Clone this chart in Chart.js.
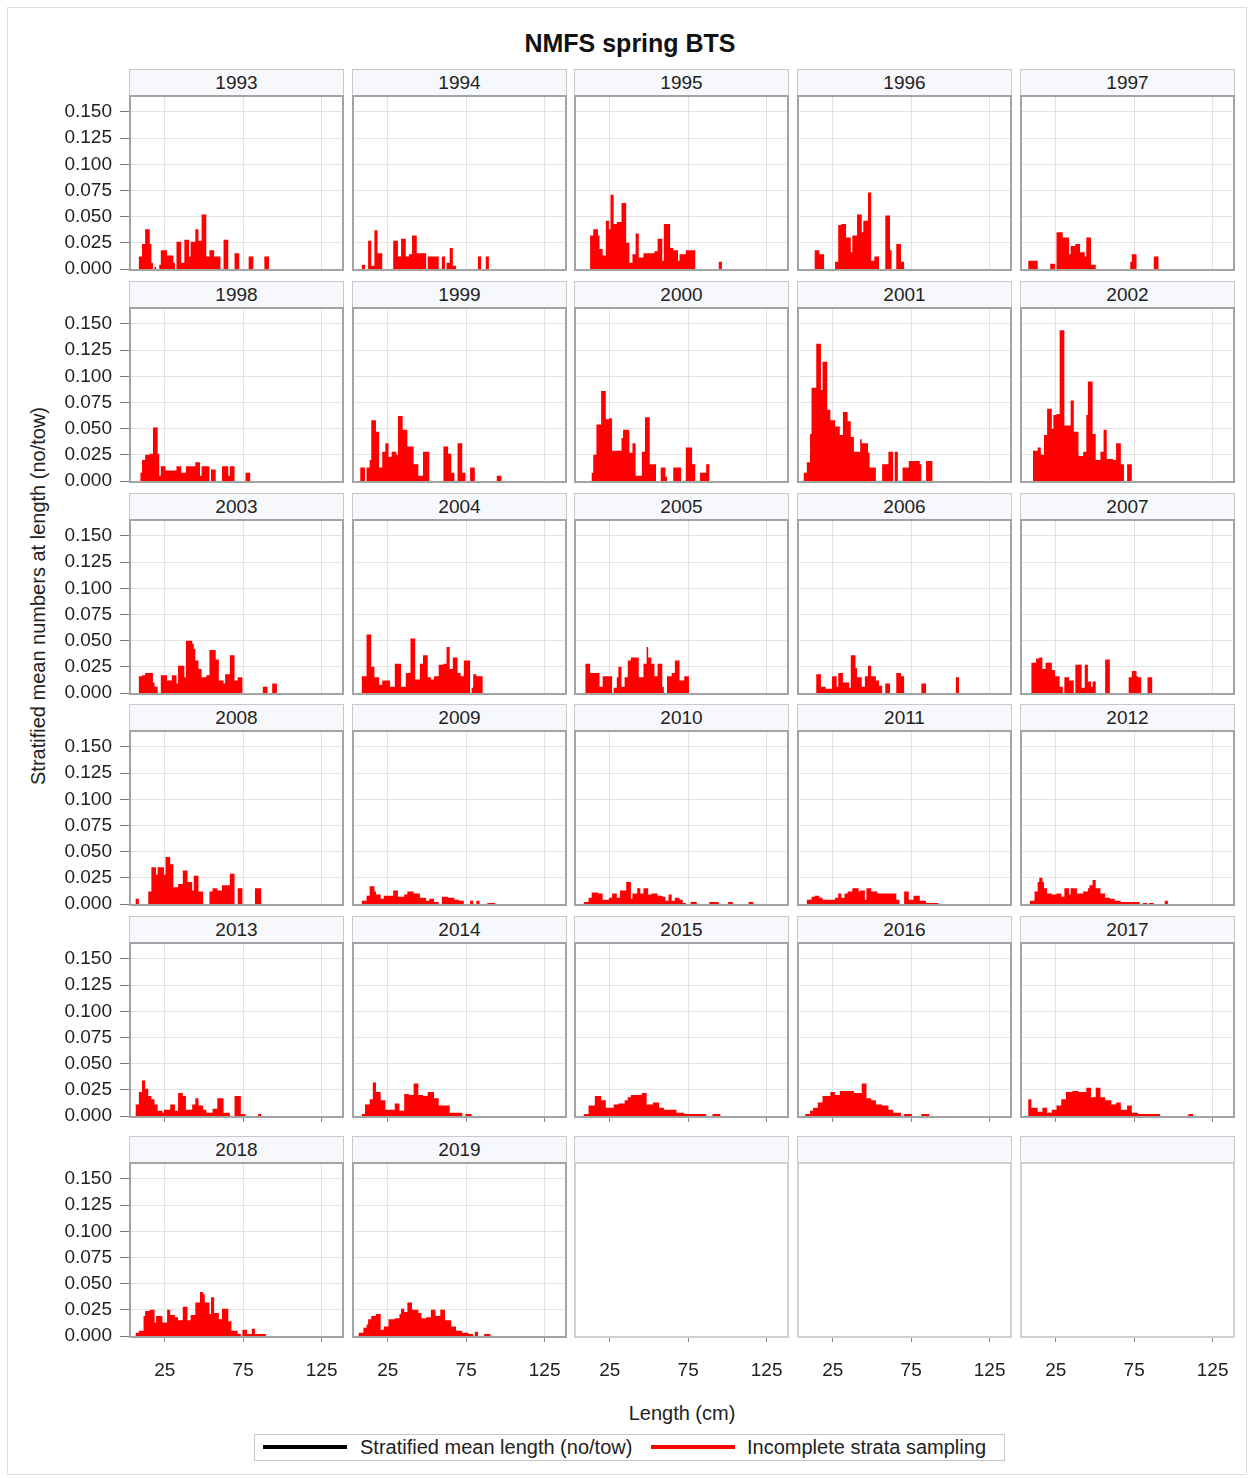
<!DOCTYPE html>
<html>
<head>
<meta charset="utf-8">
<title>NMFS spring BTS</title>
<script src="https://cdn.jsdelivr.net/npm/chart.js@4.4.1/dist/chart.umd.min.js"></script>
<style>
  body { margin: 0; background: #fff; font-family: "Liberation Sans", Arial, sans-serif; color: #222; }
  #page { position: relative; width: 1252px; height: 1478px; overflow: hidden; }
  #outer { position: absolute; left: 7px; top: 7px; width: 1238px; height: 1466px; border: 1px solid #dcdcdc; }
  .title { position: absolute; left: 0; width: 1260px; top: 29px; text-align: center; font-weight: bold; font-size: 25px; color: #111; }
  .strip { position: absolute; height: 27px; background: #f7f8fc; border: 1px solid #c8c8c8; border-bottom: none; box-sizing: border-box;
           text-align: center; font-size: 19px; line-height: 26px; color: #222; }
  canvas { position: absolute; }
  .ytitle { position: absolute; left: -212px; top: 584px; width: 500px; height: 24px; line-height: 24px; text-align: center;
            font-size: 20px; transform: rotate(-90deg); }
  .xtitle { position: absolute; left: 482px; top: 1401px; width: 400px; text-align: center; font-size: 20px; line-height: 24px; }
  .legend { position: absolute; left: 254px; top: 1434px; width: 751px; height: 27px; border: 1px solid #c8c8c8; box-sizing: border-box; }
  .swatch { position: absolute; height: 4px; }
  .ltext { position: absolute; font-size: 20px; line-height: 24px; top: 1435px; }
</style>
</head>
<body>
<div id="page">
  <div id="outer"></div>
  <div class="title">NMFS spring BTS</div>
  <div class="ytitle">Stratified mean numbers at length (no/tow)</div>
  <div class="xtitle">Length (cm)</div>
  <div class="legend"></div>
  <div class="swatch" style="left:263px;top:1445px;width:84px;background:#000;"></div>
  <div class="ltext" style="left:360px;">Stratified mean length (no/tow)</div>
  <div class="swatch" style="left:651px;top:1445px;width:84px;background:#ff0000;"></div>
  <div class="ltext" style="left:747px;">Incomplete strata sampling</div>
</div>
<script>
// panel years and axis ticks
const years = [1993, 1994, 1995, 1996, 1997, 1998, 1999, 2000, 2001, 2002, 2003, 2004, 2005, 2006,
               2007, 2008, 2009, 2010, 2011, 2012, 2013, 2014, 2015, 2016, 2017, 2018, 2019];
const yTicks = [0, 0.025, 0.05, 0.075, 0.1, 0.125, 0.15];
const xTicks = [25, 75, 125];
const binFirst = 4, binLast = 137;

// histogram runs: [from cm, to cm, no/tow]
const y1993 = [[9,10,.012],[11,12,.024],[13,15,.038],[16,16,.024],[17,17,.006],[19,19,.002],[22,22,.004],[23,26,.018],[27,30,.013],[31,31,.006],[33,35,.026],[36,37,.006],[38,40,.028],[41,41,.012],[42,44,.026],[45,46,.038],[47,48,.027],[49,51,.052],[52,53,.012],[54,56,.018],[57,60,.012],[63,65,.028],[70,72,.015],[79,81,.012],[89,91,.012]];
const y1994 = [[9,10,.004],[13,14,.027],[15,16,.003],[17,18,.037],[19,21,.015],[29,31,.027],[32,33,.012],[34,36,.029],[37,38,.012],[39,40,.014],[41,43,.032],[44,49,.015],[51,57,.012],[60,61,.012],[63,64,.006],[65,66,.020],[67,68,.003],[83,84,.012],[88,89,.012]];
const y1995 = [[13,14,.032],[15,17,.038],[18,18,.032],[19,20,.019],[21,22,.013],[23,24,.046],[25,25,.038],[26,27,.071],[28,29,.043],[30,32,.045],[33,35,.063],[36,37,.025],[38,39,.006],[40,41,.014],[42,43,.034],[44,46,.011],[47,53,.015],[54,55,.017],[56,58,.029],[59,59,.008],[60,63,.043],[64,65,.020],[66,68,.018],[69,69,.008],[70,73,.014],[74,79,.018],[95,96,.007]];
const y1996 = [[14,16,.018],[17,19,.014],[27,28,.007],[29,30,.042],[31,33,.043],[34,36,.030],[37,37,.016],[38,40,.032],[41,43,.052],[44,44,.035],[45,47,.046],[48,49,.073],[50,51,.008],[52,54,.012],[59,61,.051],[62,62,.018],[66,68,.024],[69,70,.007]];
const y1997 = [[8,13,.008],[22,24,.005],[26,29,.035],[30,33,.030],[34,34,.014],[35,37,.022],[38,40,.024],[41,43,.016],[44,44,.012],[45,47,.030],[48,50,.004],[73,73,.007],[74,76,.014],[88,90,.012]];
const y1998 = [[10,10,.008],[11,12,.020],[13,15,.025],[16,17,.026],[18,20,.051],[21,21,.026],[22,22,.005],[23,25,.014],[26,32,.010],[33,35,.014],[36,38,.008],[39,44,.014],[45,47,.018],[48,48,.005],[49,53,.014],[55,57,.011],[62,65,.014],[66,66,.005],[67,69,.014],[77,79,.008]];
const y1999 = [[8,10,.013],[12,13,.013],[14,14,.020],[15,17,.058],[18,19,.047],[20,21,.013],[22,23,.028],[24,25,.036],[26,27,.023],[28,30,.028],[31,31,.025],[32,34,.062],[35,37,.049],[38,41,.033],[42,44,.016],[45,47,.005],[48,51,.028],[61,63,.033],[64,65,.026],[66,67,.008],[70,72,.036],[73,74,.008],[78,80,.013],[95,97,.005]];
const y2000 = [[14,14,.008],[15,16,.025],[17,19,.054],[20,22,.086],[23,24,.059],[25,26,.060],[27,32,.029],[33,33,.041],[34,37,.049],[38,39,.027],[40,41,.036],[42,45,.005],[46,47,.028],[48,50,.061],[51,54,.016],[58,60,.013],[61,61,.004],[66,70,.013],[74,77,.032],[78,79,.016],[83,86,.008],[87,88,.016]];
const y2001 = [[7,8,.008],[9,10,.018],[11,11,.045],[12,14,.089],[15,17,.131],[18,18,.087],[19,21,.114],[22,23,.068],[24,26,.058],[27,29,.052],[30,31,.044],[32,34,.066],[35,36,.057],[37,38,.042],[39,42,.028],[43,43,.040],[44,47,.036],[48,48,.027],[49,52,.013],[57,60,.016],[61,63,.028],[65,66,.028],[70,73,.013],[74,80,.019],[81,81,.016],[85,88,.019]];
const y2002 = [[11,13,.029],[14,15,.032],[16,17,.025],[18,19,.044],[20,22,.069],[23,23,.050],[24,25,.063],[26,27,.064],[28,30,.144],[31,34,.053],[35,36,.077],[37,39,.047],[40,42,.024],[43,44,.028],[45,45,.063],[46,48,.095],[49,50,.045],[51,53,.020],[54,55,.028],[56,57,.049],[58,61,.021],[62,63,.020],[64,66,.036],[67,68,.016],[71,73,.016]];
const y2003 = [[9,10,.016],[11,12,.017],[13,17,.019],[18,18,.010],[19,20,.006],[23,26,.017],[27,29,.012],[30,32,.017],[33,33,.009],[34,37,.026],[38,38,.015],[39,42,.050],[43,43,.047],[44,44,.042],[45,46,.031],[47,48,.023],[49,51,.015],[52,53,.017],[54,57,.041],[58,59,.032],[60,62,.012],[63,63,.009],[64,66,.018],[67,69,.036],[70,71,.012],[72,74,.015],[88,90,.006],[94,96,.009]];
const y2004 = [[9,11,.016],[12,14,.056],[15,16,.025],[17,19,.015],[20,21,.008],[22,26,.012],[27,29,.006],[30,33,.028],[34,36,.006],[37,39,.019],[40,42,.052],[43,45,.013],[46,47,.028],[48,50,.036],[51,52,.015],[53,54,.013],[55,57,.016],[58,60,.027],[61,62,.028],[63,64,.044],[65,66,.023],[67,69,.034],[70,71,.019],[72,73,.016],[74,77,.031],[79,79,.005],[80,81,.018],[82,85,.016]];
const y2005 = [[10,12,.028],[13,18,.019],[19,20,.006],[21,26,.016],[28,29,.005],[30,30,.015],[31,32,.025],[33,34,.006],[35,36,.015],[37,38,.031],[39,43,.034],[44,46,.015],[47,48,.028],[49,49,.044],[50,51,.034],[52,53,.028],[54,55,.016],[56,58,.028],[59,59,.006],[62,64,.016],[65,66,.019],[67,69,.031],[70,72,.012],[73,75,.016]];
const y2006 = [[15,17,.018],[18,20,.006],[21,24,.004],[25,27,.016],[28,28,.006],[29,31,.019],[32,32,.010],[33,35,.010],[36,36,.005],[37,39,.036],[40,40,.024],[41,43,.015],[44,45,.006],[46,47,.016],[48,49,.026],[50,52,.016],[53,54,.012],[55,56,.007],[59,61,.009],[66,68,.019],[69,70,.016],[82,84,.009],[104,105,.015]];
const y2007 = [[10,12,.029],[13,14,.033],[15,16,.034],[17,18,.023],[19,22,.029],[23,24,.022],[25,27,.016],[28,29,.006],[31,33,.015],[34,36,.012],[38,39,.027],[40,41,.027],[42,43,.005],[44,45,.027],[46,47,.011],[48,48,.006],[49,50,.011],[57,59,.032],[72,73,.015],[74,76,.021],[77,77,.016],[78,79,.015],[84,86,.015]];
const y2008 = [[7,8,.005],[15,16,.012],[17,19,.035],[20,20,.028],[21,24,.035],[25,25,.028],[26,28,.045],[29,30,.038],[31,33,.016],[34,36,.019],[37,39,.032],[40,42,.021],[43,43,.013],[44,46,.027],[47,49,.012],[54,55,.012],[56,58,.015],[59,61,.013],[62,66,.018],[67,69,.029],[72,74,.015],[83,86,.015]];
const y2009 = [[9,11,.003],[12,13,.008],[14,16,.017],[17,17,.012],[18,20,.009],[21,22,.005],[23,28,.008],[29,31,.013],[32,35,.007],[36,37,.009],[38,41,.012],[42,45,.010],[46,49,.006],[50,51,.003],[52,54,.005],[55,57,.002],[60,63,.007],[64,67,.006],[68,70,.004],[71,73,.003],[78,79,.003],[82,83,.003],[89,93,.001]];
const y2010 = [[9,11,.002],[12,13,.006],[14,17,.011],[18,20,.010],[21,24,.004],[25,26,.006],[27,29,.010],[30,31,.006],[32,35,.013],[36,38,.021],[39,39,.005],[40,42,.010],[43,44,.015],[45,46,.010],[47,49,.015],[50,51,.009],[52,55,.010],[56,58,.008],[59,60,.007],[61,62,.003],[63,64,.009],[65,66,.003],[67,69,.006],[70,71,.004],[72,73,.001],[77,80,.002],[89,94,.002],[101,103,.002],[114,116,.002]];
const y2011 = [[9,11,.004],[12,13,.007],[14,16,.008],[17,18,.006],[19,26,.004],[27,28,.006],[29,30,.010],[31,32,.006],[33,34,.010],[35,37,.012],[38,41,.015],[42,42,.012],[43,45,.013],[46,46,.004],[47,49,.015],[50,53,.012],[54,57,.010],[58,60,.010],[61,65,.010],[66,67,.004],[71,73,.012],[74,76,.004],[77,80,.008],[81,84,.003],[85,92,.001]];
const y2012 = [[9,11,.003],[12,13,.012],[14,14,.021],[15,16,.025],[17,17,.021],[18,19,.015],[20,22,.010],[23,25,.009],[26,28,.010],[29,30,.007],[31,33,.015],[34,34,.009],[35,38,.015],[39,42,.010],[43,45,.012],[46,46,.015],[47,48,.018],[49,50,.023],[51,53,.015],[54,56,.010],[57,59,.006],[60,62,.005],[63,66,.003],[67,78,.002],[81,83,.001],[85,87,.001],[95,96,.003]];
const y2013 = [[7,8,.011],[9,10,.023],[11,12,.034],[13,14,.026],[15,16,.019],[17,18,.016],[19,20,.011],[21,23,.005],[24,24,.003],[25,28,.006],[29,31,.011],[32,33,.005],[34,36,.022],[37,38,.019],[39,42,.006],[43,44,.011],[45,46,.017],[47,49,.010],[50,51,.006],[52,55,.003],[56,58,.007],[59,62,.017],[63,66,.003],[70,73,.019],[74,76,.002],[85,86,.002]];
const y2014 = [[9,10,.002],[11,13,.011],[14,15,.016],[16,17,.032],[18,20,.023],[21,23,.015],[24,29,.006],[30,32,.012],[33,35,.005],[36,38,.021],[39,41,.020],[42,44,.031],[45,47,.020],[48,50,.019],[51,54,.023],[55,57,.017],[58,64,.010],[65,72,.003],[75,78,.002]];
const y2015 = [[9,11,.002],[12,15,.010],[16,19,.019],[20,22,.015],[23,27,.008],[28,30,.011],[31,34,.012],[35,36,.015],[37,38,.018],[39,45,.020],[46,48,.022],[49,52,.011],[53,56,.013],[57,59,.008],[60,67,.006],[68,72,.003],[73,86,.002],[91,95,.002]];
const y2016 = [[8,10,.002],[11,12,.005],[13,15,.008],[16,18,.013],[19,23,.019],[24,26,.023],[27,29,.020],[30,38,.024],[39,43,.022],[44,46,.031],[47,49,.017],[50,52,.015],[53,56,.011],[57,60,.010],[61,63,.006],[64,68,.003],[71,75,.002],[82,86,.002]];
const y2017 = [[8,9,.016],[10,13,.008],[14,16,.004],[17,19,.008],[20,22,.003],[23,25,.006],[26,28,.010],[29,31,.016],[32,35,.023],[36,39,.024],[40,44,.023],[45,47,.027],[48,50,.018],[51,53,.027],[54,56,.018],[57,60,.015],[61,63,.011],[64,66,.013],[67,70,.006],[71,73,.010],[74,77,.003],[78,91,.002],[110,112,.002]];
const y2018 = [[7,8,.003],[9,11,.005],[12,12,.019],[13,15,.024],[16,18,.025],[19,19,.013],[20,23,.019],[24,26,.013],[27,28,.025],[29,31,.020],[32,33,.018],[34,36,.015],[37,39,.028],[40,41,.015],[42,44,.020],[45,47,.032],[48,49,.042],[50,50,.040],[51,53,.032],[54,54,.021],[55,56,.037],[57,59,.022],[60,61,.016],[62,65,.026],[66,67,.014],[68,71,.005],[72,73,.002],[75,77,.006],[78,80,.002],[81,82,.007],[83,89,.002]];
const y2019 = [[7,9,.003],[10,11,.008],[12,12,.011],[13,14,.016],[15,17,.019],[18,20,.021],[21,22,.006],[23,25,.009],[26,29,.016],[30,32,.017],[33,33,.021],[34,35,.026],[36,37,.023],[38,40,.032],[41,44,.025],[45,46,.022],[47,49,.017],[50,52,.018],[53,55,.025],[56,58,.019],[59,61,.025],[62,65,.015],[66,68,.009],[69,72,.005],[73,76,.003],[77,79,.002],[81,82,.004],[87,90,.002]];

const yearRuns = [y1993, y1994, y1995, y1996, y1997, y1998, y1999, y2000, y2001, y2002, y2003, y2004, y2005, y2006,
                  y2007, y2008, y2009, y2010, y2011, y2012, y2013, y2014, y2015, y2016, y2017, y2018, y2019];

// grid geometry
const colLeft = [131, 354, 576, 799, 1022];
const rowTop = [97, 309, 521, 732, 944, 1164];
const plotW = 211, plotH = 172;

Chart.defaults.font.family = "'Liberation Sans', Arial, sans-serif";
Chart.defaults.font.size = 19;
Chart.defaults.color = '#222';

const page = document.getElementById('page');

// draws the grey box round each plot area
const panelFrame = {
    id: 'panelFrame',
    afterDraw(chart, args, opts) {
        const a = chart.chartArea;
        const ctx = chart.ctx;
        ctx.save();
        ctx.strokeStyle = opts.color;
        ctx.lineWidth = 2;
        ctx.strokeRect(a.left - 1, a.top - 1, a.right - a.left + 2, a.bottom - a.top + 2);
        ctx.restore();
    }
};

function binsFor(runs) {
    const pts = [];
    for (let len = binFirst; len <= binLast; len++) {
        let v = 0;
        runs.forEach(r => { if (len >= r[0] && len <= r[1]) v = r[2]; });
        pts.push({ x: len, y: v });
    }
    return pts;
}

// keep every plot area the same size whatever labels sit round it
function noPadding(s) {
    s.paddingTop = 0;
    s.paddingBottom = 0;
    s.paddingLeft = 0;
    s.paddingRight = 0;
}

function makePanel(i) {
    const row = Math.floor(i / 5), col = i % 5;
    const hasData = i < years.length;
    const left = colLeft[col], top = rowTop[row];

    const strip = document.createElement('div');
    strip.className = 'strip';
    strip.style.left = (left - 2) + 'px';
    strip.style.top = (top - 28) + 'px';
    strip.style.width = (plotW + 4) + 'px';
    strip.textContent = hasData ? years[i] : '';
    page.appendChild(strip);

    const padL = col === 0 ? 80 : 3;
    const padT = 3, padR = 3;
    const lastRow = row === 5;
    let padB = lastRow ? 50 : (row === 4 ? 10 : 3);
    if (col === 0 && !lastRow) padB = 12;   // room for the 0.000 label

    const cv = document.createElement('canvas');
    cv.width = plotW + padL + padR;
    cv.height = plotH + padT + padB;
    cv.style.left = (left - padL) + 'px';
    cv.style.top = (top - padT) + 'px';
    page.appendChild(cv);

    new Chart(cv, {
        type: 'line',
        data: {
            datasets: [{
                label: 'Incomplete strata sampling',
                data: hasData ? binsFor(yearRuns[i]) : [],
                stepped: 'middle',
                fill: 'origin',
                backgroundColor: '#ff0000',
                borderColor: 'rgba(0,0,0,0)',
                borderWidth: 0,
                pointRadius: 0
            }]
        },
        options: {
            responsive: false,
            animation: false,
            events: [],
            devicePixelRatio: 1,
            layout: { autoPadding: false, padding: { top: padT, right: padR, left: 0, bottom: 0 } },
            plugins: {
                legend: { display: false },
                tooltip: { enabled: false },
                panelFrame: { color: hasData ? '#a3a3a3' : '#cfcfcf' }
            },
            scales: {
                x: {
                    type: 'linear',
                    min: 3.5,
                    max: 138,
                    afterBuildTicks: axis => { axis.ticks = xTicks.map(v => ({ value: v })); },
                    afterFit: s => { s.height = padB; noPadding(s); },
                    border: { display: false },
                    grid: {
                        display: true,
                        drawOnChartArea: hasData,
                        color: '#e3e3e3',
                        tickColor: '#888',
                        drawTicks: row >= 4,
                        tickLength: 6
                    },
                    ticks: {
                        display: lastRow,
                        padding: 17,
                        maxRotation: 0,
                        autoSkip: false,
                        callback: v => v
                    }
                },
                y: {
                    min: 0,
                    max: 0.1643,
                    afterBuildTicks: axis => { axis.ticks = yTicks.map(v => ({ value: v })); },
                    afterFit: s => { s.width = padL; noPadding(s); },
                    border: { display: false },
                    grid: {
                        display: true,
                        drawOnChartArea: hasData,
                        color: '#e3e3e3',
                        tickColor: '#777',
                        drawTicks: col === 0,
                        tickLength: 11
                    },
                    ticks: {
                        display: col === 0,
                        autoSkip: false,
                        padding: 8,
                        callback: v => v.toFixed(3)
                    }
                }
            }
        },
        plugins: [panelFrame]
    });
}

for (let i = 0; i < 30; i++) makePanel(i);
</script>
</body>
</html>
